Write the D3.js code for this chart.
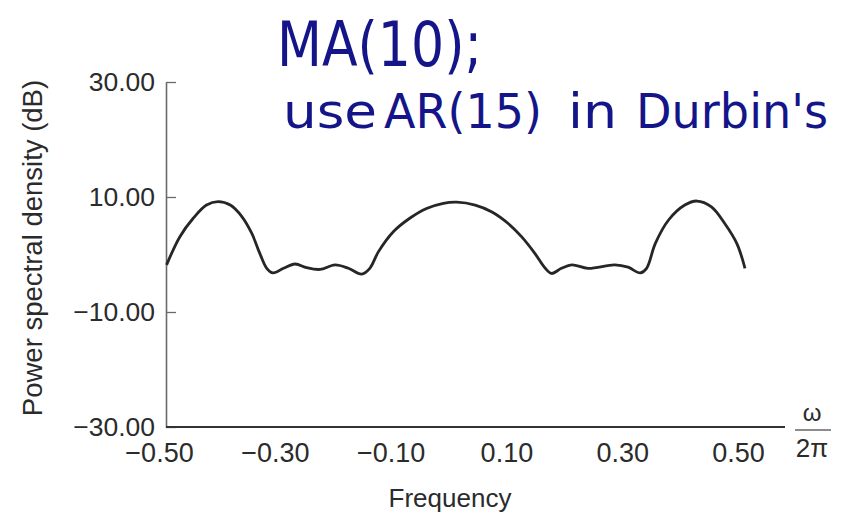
<!DOCTYPE html>
<html>
<head>
<meta charset="utf-8">
<script src="https://cdn.jsdelivr.net/npm/d3@7"></script>
<style>
  body { margin: 0; background: #fff; }
  svg { display: block; }
</style>
</head>
<body>
<svg id="chart" width="846" height="515"></svg>
<script>
// frequency (w / 2pi) and power spectral density (dB)
var freq = [-0.499, -0.476, -0.453, -0.430, -0.410, -0.389, -0.369, -0.352, -0.338, -0.326,
  -0.315, -0.297, -0.277, -0.257, -0.234, -0.208, -0.185, -0.162, -0.148, -0.133,
  -0.107, -0.079, -0.050, -0.021, 0.002, 0.034, 0.063, 0.091, 0.114, 0.137,
  0.155, 0.166, 0.183, 0.201, 0.229, 0.275, 0.298, 0.319, 0.330, 0.345,
  0.368, 0.396, 0.417, 0.442, 0.465, 0.486, 0.500];
var psd = [-1.8, 3.1, 6.3, 8.6, 9.2, 8.6, 6.6, 3.7, 0.2, -2.4,
  -3.2, -2.4, -1.65, -2.3, -2.6, -1.8, -2.4, -3.4, -2.4, 0.5,
  4.0, 6.3, 8.0, 8.9, 9.1, 8.6, 7.4, 5.4, 3.1, 0.2,
  -2.4, -3.3, -2.4, -1.8, -2.4, -1.8, -2.2, -3.2, -2.4, 1.9,
  6.0, 8.6, 9.3, 8.3, 5.4, 1.9, -2.4];

var xTicks = [-0.5, -0.3, -0.1, 0.1, 0.3, 0.5];
var yTicks = [30, 10, -10, -30];
var note1 = "MA(10);";
var note2 = ["use", "AR(15)", "in", "Durbin's"];

var svg = d3.select("#chart");
var font = "'Liberation Sans', Arial, sans-serif";
var ink = "#2b2b2b";

var x = d3.scaleLinear().domain([-0.5, 0.5]).range([166, 745]);
var y = d3.scaleLinear().domain([-30, 30]).range([427, 82]);

// y axis, ticks pointing inward
var yAxis = svg.append("g")
    .attr("transform", "translate(" + x.range()[0] + ",0)")
    .call(d3.axisLeft(y).tickValues(yTicks).tickFormat(d3.format(".2f"))
      .tickSizeInner(-10).tickSizeOuter(0).tickPadding(11));
yAxis.select(".domain").attr("stroke", "#6a6a6a").attr("stroke-width", 1.6);
yAxis.selectAll(".tick line").attr("stroke", "#6a6a6a").attr("stroke-width", 1.3);
yAxis.selectAll(".tick text")
    .style("font-family", font).style("font-size", "26.5px").attr("fill", ink);

// x axis, no tick marks, line runs past the last label
var xAxis = svg.append("g")
    .attr("transform", "translate(0," + y.range()[0] + ")")
    .call(d3.axisBottom(x).tickValues(xTicks).tickFormat(d3.format(".2f"))
      .tickSize(0).tickPadding(16));
xAxis.select(".domain").remove();
xAxis.append("line")
    .attr("x1", x.range()[0]).attr("x2", x.range()[1] + 40)
    .attr("stroke", "#333").attr("stroke-width", 2.2);
xAxis.selectAll(".tick text")
    .attr("dx", -7)
    .style("font-family", font).style("font-size", "27px").attr("fill", ink);

// w / 2pi at the end of the x axis
var frac = svg.append("g").attr("transform", "translate(812,430)")
    .style("font-family", font).attr("fill", ink).attr("text-anchor", "middle");
frac.append("text").attr("y", -9).style("font-size", "24px").text("\u03c9");
frac.append("line").attr("x1", -17).attr("x2", 19)
    .attr("stroke", "#666").attr("stroke-width", 1.6);
frac.append("text").attr("y", 27).style("font-size", "26px").text("2\u03c0");

// axis titles
svg.append("text")
    .attr("x", 450).attr("y", 507)
    .attr("text-anchor", "middle")
    .style("font-family", font).style("font-size", "26px").attr("fill", ink)
    .text("Frequency");
svg.append("text")
    .attr("transform", "translate(42,248) rotate(-90)")
    .attr("text-anchor", "middle")
    .style("font-family", font).style("font-size", "27.5px").attr("fill", ink)
    .text("Power spectral density (dB)");

// spectrum
var line = d3.line()
    .x(function(d, i) { return x(freq[i]); })
    .y(function(d) { return y(d); })
    .curve(d3.curveCatmullRom.alpha(0.5));
svg.append("path")
    .datum(psd)
    .attr("d", line)
    .attr("fill", "none")
    .attr("stroke", "#262626")
    .attr("stroke-width", 2.8)
    .attr("stroke-linejoin", "round");

// handwritten note
var pen = "#15158a";
var hand = "'DejaVu Sans', sans-serif";
svg.append("text")
    .attr("x", 277).attr("y", 66)
    .attr("textLength", 205).attr("lengthAdjust", "spacingAndGlyphs")
    .style("font-family", hand).style("font-size", "62px").attr("fill", pen)
    .text(note1);
var spans = [[283, 94], [384, 158], [568, 49], [636, 192]];
svg.selectAll("text.note2")
    .data(note2)
    .enter().append("text")
    .attr("class", "note2")
    .attr("x", function(d, i) { return spans[i][0]; })
    .attr("y", 128)
    .attr("textLength", function(d, i) { return spans[i][1]; })
    .attr("lengthAdjust", "spacingAndGlyphs")
    .style("font-family", hand).style("font-size", "48px").attr("fill", pen)
    .text(function(d) { return d; });
</script>
</body>
</html>
